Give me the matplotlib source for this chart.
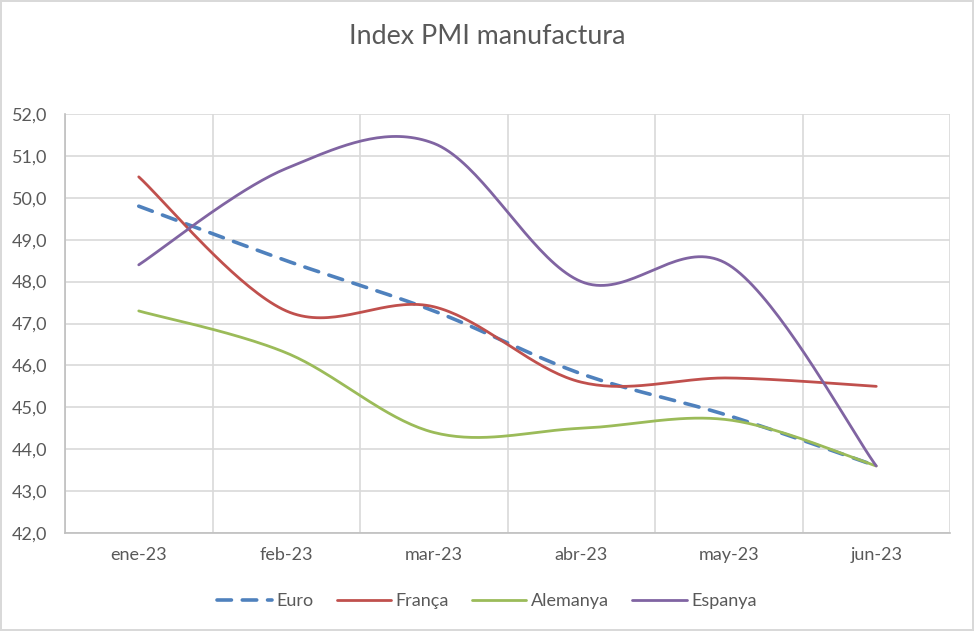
import numpy as np
import matplotlib
matplotlib.use("Agg")
import matplotlib.pyplot as plt
from matplotlib.ticker import FuncFormatter, MultipleLocator, FixedLocator

# ---------------------------------------------------------------------------
# Data
# ---------------------------------------------------------------------------
months   = ['ene-23', 'feb-23', 'mar-23', 'abr-23', 'may-23', 'jun-23']
euro     = [49.8, 48.5, 47.3, 45.8, 44.8, 43.6]
franca   = [50.5, 47.3, 47.4, 45.6, 45.7, 45.5]
alemanya = [47.3, 46.3, 44.4, 44.5, 44.7, 43.6]
espanya  = [48.4, 50.7, 51.3, 48.0, 48.4, 43.6]

plt.rcParams['font.family'] = ['Lato', 'DejaVu Sans']
TXT = '#595959'
GRID = '#D9D9D9'


def smooth(xs, ys, n=40):
    """Excel-like smoothed line: Catmull-Rom control points on cubic Beziers."""
    P = np.column_stack([xs, ys]).astype(float)
    m = len(P)
    out = [P[0]]
    t = np.linspace(0, 1, n)[1:, None]
    for i in range(m - 1):
        p0 = P[max(i - 1, 0)]
        p1 = P[i]
        p2 = P[i + 1]
        p3 = P[min(i + 2, m - 1)]
        c1 = p1 + (p2 - p0) / 6.0
        c2 = p2 - (p3 - p1) / 6.0
        seg = ((1 - t) ** 3) * p1 + 3 * ((1 - t) ** 2) * t * c1 \
            + 3 * (1 - t) * t ** 2 * c2 + t ** 3 * p2
        out.extend(seg)
    out = np.array(out)
    return out[:, 0], out[:, 1]


fig = plt.figure(figsize=(9.74, 6.31), dpi=100)
fig.patch.set_edgecolor(GRID)
fig.patch.set_linewidth(1.5)

ax = fig.add_axes([65 / 974, (631 - 533) / 631, 885 / 974, 419 / 631])

x = np.arange(len(months))
series = [
    ('Euro', euro, '#4F81BD', (0, (4, 3)), 2.6),
    ('França', franca, '#C0504D', '-', 2.0),
    ('Alemanya', alemanya, '#9BBB59', '-', 2.0),
    ('Espanya', espanya, '#8064A2', '-', 2.0),
]
for name, vals, col, ls, lw in series:
    sx, sy = smooth(x, vals)
    ax.plot(sx, sy, color=col, linestyle=ls, linewidth=lw, label=name,
            solid_capstyle='round', dash_capstyle='round', zorder=3)

ax.set_xlim(-0.5, len(months) - 0.5)
ax.set_ylim(42, 52)
ax.yaxis.set_major_locator(MultipleLocator(1))
ax.yaxis.set_major_formatter(FuncFormatter(lambda v, p: f"{v:.1f}".replace('.', ',')))
ax.set_xticks(x)
ax.set_xticklabels(months)
ax.xaxis.set_minor_locator(FixedLocator(np.arange(-0.5, len(months), 1.0)))

ax.grid(True, axis='y', which='major', color=GRID, linewidth=1.2)
ax.grid(True, axis='x', which='minor', color=GRID, linewidth=1.2)
ax.set_axisbelow(True)
ax.tick_params(axis='both', which='both', length=0, labelsize=13, labelcolor=TXT)
ax.tick_params(axis='y', pad=13)
ax.tick_params(axis='x', pad=10)

for s in ['top', 'right']:
    ax.spines[s].set_visible(False)
ax.spines['left'].set_color('#BFBFBF')
ax.spines['bottom'].set_color('#BFBFBF')
ax.spines['left'].set_linewidth(1.2)
ax.spines['bottom'].set_linewidth(1.2)

fig.text(0.5, 1 - 37 / 631, 'Index PMI manufactura', ha='center', va='center',
         fontsize=19.3, color=TXT)

leg = fig.legend(loc='center', bbox_to_anchor=(0.5, 1 - 601 / 631), ncol=4,
                 frameon=False, fontsize=13, handlelength=3.0,
                 handletextpad=0.25, columnspacing=1.3)
for t in leg.get_texts():
    t.set_color(TXT)

fig.savefig('out.png', dpi=100)
